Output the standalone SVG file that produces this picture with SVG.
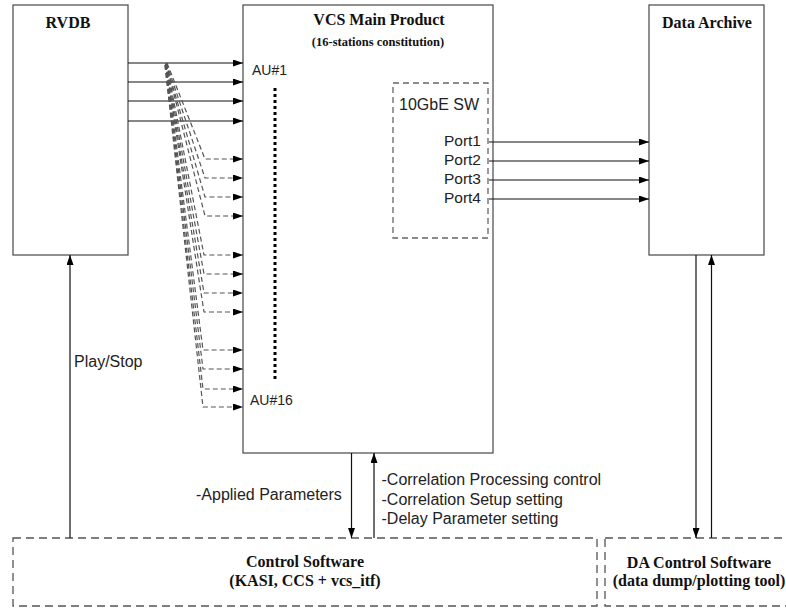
<svg xmlns="http://www.w3.org/2000/svg" width="786" height="609" viewBox="0 0 786 609">
<defs>
<marker id="ah" markerUnits="userSpaceOnUse" markerWidth="10" markerHeight="7" refX="10" refY="3.5" orient="auto">
<path d="M0,0 L10,3.5 L0,7 z" fill="#000" stroke="none"/>
</marker>
</defs>
<style>
.box{fill:#fff;stroke:#555;stroke-width:1.3}
.dbox{fill:#fff;stroke:#555;stroke-width:1.3;stroke-dasharray:8,5}
.sw{fill:none;stroke:#666;stroke-width:1.3;stroke-dasharray:6,4}
.title{font-family:"Liberation Serif","Times New Roman",serif;font-weight:bold;font-size:16px;fill:#111;text-anchor:middle}
.sub{font-family:"Liberation Serif","Times New Roman",serif;font-weight:bold;font-size:12.5px;fill:#111;text-anchor:middle}
.lbl{font-family:"Liberation Sans",Arial,sans-serif;font-size:16px;fill:#222}
.au{font-family:"Liberation Sans",Arial,sans-serif;font-size:14px;fill:#222}
.arr{fill:none;stroke:#111;stroke-width:1.2;marker-end:url(#ah)}
.darr{fill:none;stroke:#555;stroke-width:1.2;stroke-dasharray:5,3;marker-end:url(#ah)}
</style>
<rect width="786" height="609" fill="#fff"/>

<g id="rvdb">
<rect class="box" x="13" y="5" width="115" height="250"/>
<text class="title" x="68" y="28">RVDB</text>
</g>

<g id="vcs">
<rect class="box" x="243" y="5" width="250" height="448"/>
<text class="title" x="379" y="25">VCS Main Product</text>
<text class="sub" x="378" y="46">(16-stations constitution)</text>
<text class="au" x="252" y="75">AU#1</text>
<line x1="275" y1="88" x2="275" y2="382" stroke="#000" stroke-width="3" stroke-dasharray="3,3"/>
<text class="au" x="250" y="405">AU#16</text>
</g>

<g id="sw10g">
<rect class="sw" x="393" y="83" width="95" height="155"/>
<text class="lbl" x="399" y="110">10GbE SW</text>
<text class="lbl" x="481" y="146" text-anchor="end" style="font-size:15.5px">Port1</text>
<text class="lbl" x="481" y="165" text-anchor="end" style="font-size:15.5px">Port2</text>
<text class="lbl" x="481" y="184" text-anchor="end" style="font-size:15.5px">Port3</text>
<text class="lbl" x="481" y="203" text-anchor="end" style="font-size:15.5px">Port4</text>
</g>

<g id="archive">
<rect class="box" x="649" y="5" width="115" height="250"/>
<text class="title" x="707" y="28">Data Archive</text>
</g>

<g id="control">
<rect class="dbox" x="13" y="538" width="584" height="68"/>
<text class="title" x="305" y="567">Control Software</text>
<text class="title" x="305" y="586">(KASI, CCS + vcs_itf)</text>
</g>

<g id="dacontrol">
<rect class="dbox" x="605" y="538" width="190" height="68"/>
<text class="title" x="699" y="568">DA Control Software</text>
<text class="title" x="699" y="586">(data dump/plotting tool)</text>
</g>

<g id="connectors">
<line class="arr" x1="128" y1="63" x2="243" y2="63"/>
<line class="arr" x1="128" y1="82" x2="243" y2="82"/>
<line class="arr" x1="128" y1="101" x2="243" y2="101"/>
<line class="arr" x1="128" y1="121" x2="243" y2="121"/>

<polyline class="darr" points="167,63 205,159 243,159"/>
<polyline class="darr" points="166.5,63 205,178 243,178"/>
<polyline class="darr" points="166,63 205,197 243,197"/>
<polyline class="darr" points="166,63 205,216 243,216"/>
<polyline class="darr" points="166.5,64 204,255 243,255"/>
<polyline class="darr" points="166,64 204,274 243,274"/>
<polyline class="darr" points="165.5,64 204,293 243,293"/>
<polyline class="darr" points="165.5,64 204,312 243,312"/>
<polyline class="darr" points="166,65 203,350 243,350"/>
<polyline class="darr" points="165.5,65 203,369 243,369"/>
<polyline class="darr" points="165,65 203,389 243,389"/>
<polyline class="darr" points="165,65 203,407 243,407"/>

<line class="arr" x1="489" y1="142" x2="649" y2="142"/>
<line class="arr" x1="489" y1="161" x2="649" y2="161"/>
<line class="arr" x1="489" y1="180" x2="649" y2="180"/>
<line class="arr" x1="489" y1="199" x2="649" y2="199"/>

<line class="arr" x1="696" y1="255" x2="696" y2="538"/>
<line class="arr" x1="711.5" y1="538" x2="711.5" y2="255"/>

<line class="arr" x1="70" y1="538" x2="70" y2="255"/>
<line class="arr" x1="351.5" y1="453" x2="351.5" y2="538"/>
<line class="arr" x1="374" y1="538" x2="374" y2="453"/>

<text class="lbl" x="74" y="366.5">Play/Stop</text>
<text class="lbl" x="196" y="499.5">-Applied Parameters</text>
<text class="lbl" x="381.5" y="485">-Correlation Processing control</text>
<text class="lbl" x="381.5" y="504.5">-Correlation Setup setting</text>
<text class="lbl" x="381.5" y="524">-Delay Parameter setting</text>
</g>
</svg>
